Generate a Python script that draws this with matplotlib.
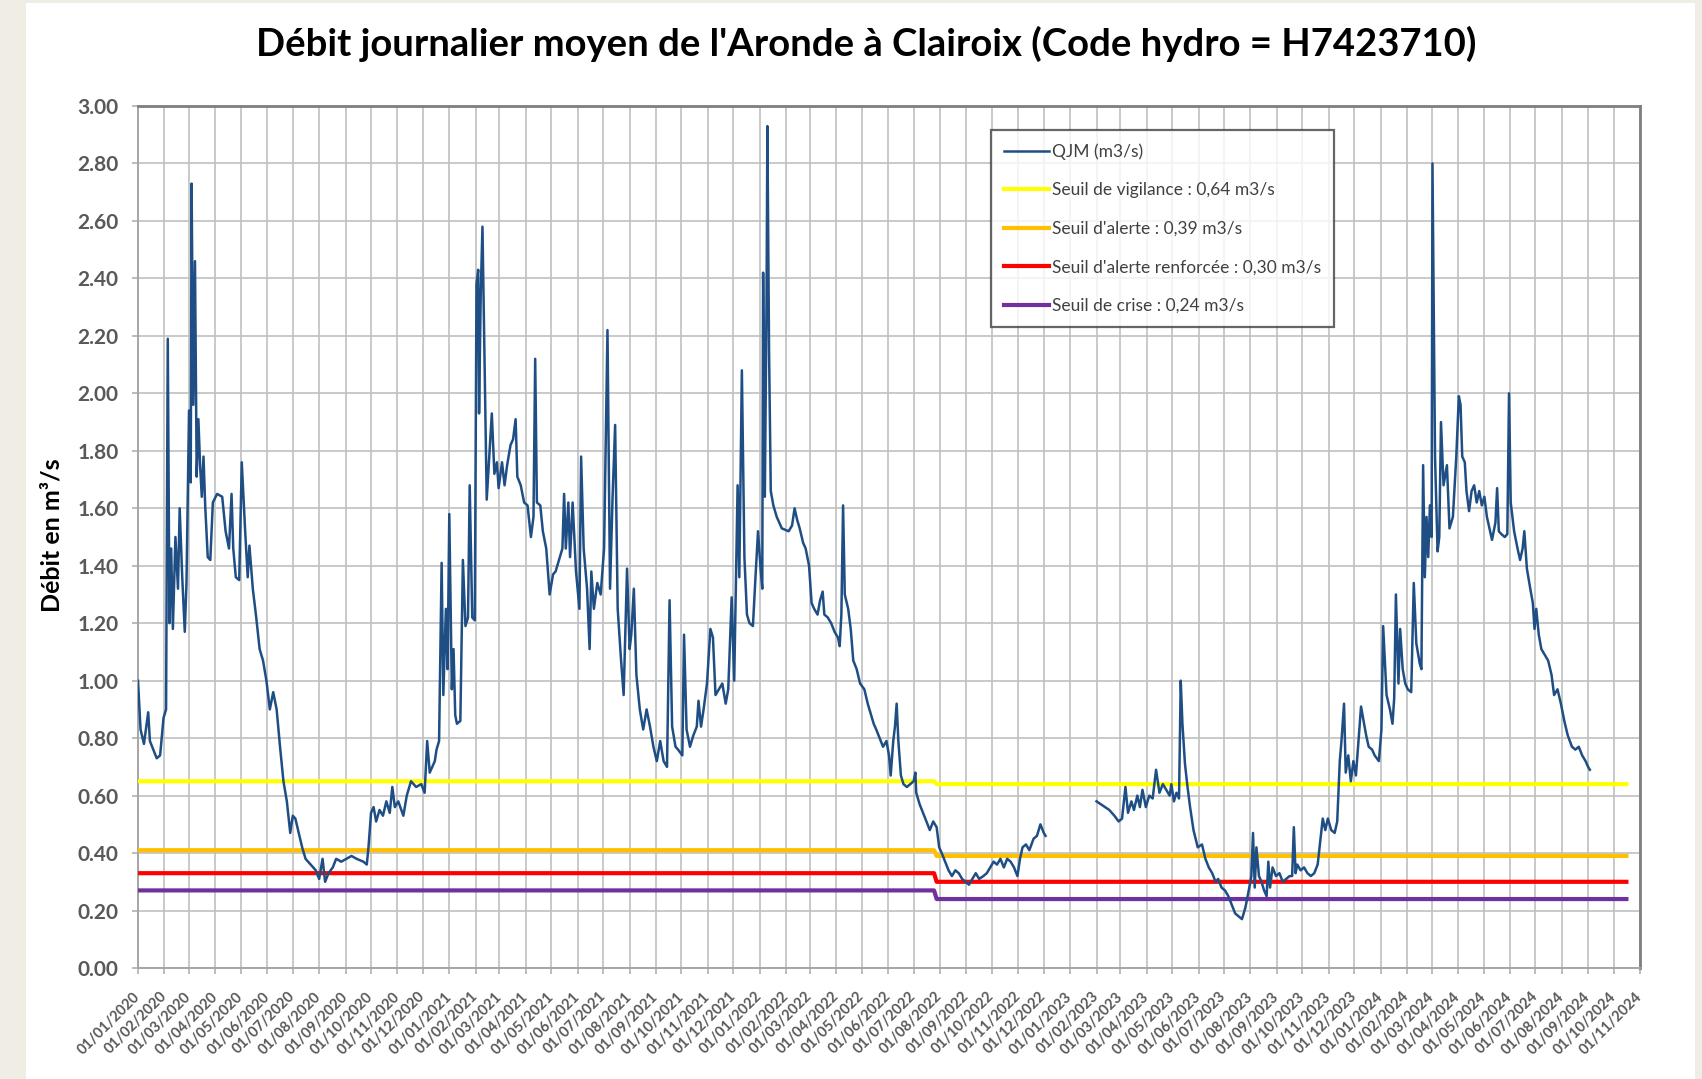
import matplotlib
matplotlib.use("Agg")
import matplotlib.pyplot as plt
import matplotlib.dates as mdates
import matplotlib.ticker as mticker
from matplotlib.patches import Rectangle
import pandas as pd

# ---------------- data ----------------
dates_2020 = ["2020-01-01","2020-01-04","2020-01-08","2020-01-13","2020-01-15","2020-01-19","2020-01-23","2020-01-27",
              "2020-01-31","2020-02-03","2020-02-04","2020-02-05","2020-02-07","2020-02-09","2020-02-11","2020-02-14",
              "2020-02-17","2020-02-19","2020-02-22","2020-02-25","2020-02-27","2020-03-01","2020-03-03","2020-03-04",
              "2020-03-06","2020-03-08","2020-03-10","2020-03-12","2020-03-14","2020-03-16","2020-03-18","2020-03-20",
              "2020-03-23","2020-03-26","2020-03-29","2020-04-03","2020-04-09","2020-04-13","2020-04-17","2020-04-20",
              "2020-04-22","2020-04-25","2020-04-29","2020-05-02","2020-05-06","2020-05-09","2020-05-11","2020-05-15",
              "2020-05-19","2020-05-23","2020-05-27","2020-05-31","2020-06-04","2020-06-08","2020-06-12","2020-06-16",
              "2020-06-20","2020-06-24","2020-06-28","2020-07-01","2020-07-04","2020-07-08","2020-07-12","2020-07-16",
              "2020-07-22","2020-07-28","2020-08-01","2020-08-05","2020-08-08","2020-08-12","2020-08-17","2020-08-21",
              "2020-08-27","2020-09-02","2020-09-08","2020-09-14","2020-09-22","2020-09-26","2020-09-28","2020-10-01",
              "2020-10-04","2020-10-07","2020-10-11","2020-10-15","2020-10-19","2020-10-23","2020-10-26","2020-10-29",
              "2020-11-02","2020-11-08","2020-11-12","2020-11-17","2020-11-23","2020-11-29","2020-12-03","2020-12-06",
              "2020-12-09","2020-12-15","2020-12-17","2020-12-20","2020-12-23","2020-12-25","2020-12-28","2020-12-30"]
q_2020 = [1.00,0.83,0.78,0.89,0.79,0.76,0.73,0.74,
          0.87,0.90,1.55,2.19,1.20,1.46,1.18,1.50,
          1.32,1.60,1.36,1.17,1.34,1.94,1.69,2.73,
          1.96,2.46,1.71,1.91,1.75,1.64,1.78,1.61,
          1.43,1.42,1.62,1.65,1.64,1.52,1.46,1.65,
          1.46,1.36,1.35,1.76,1.52,1.36,1.47,1.32,
          1.22,1.11,1.07,1.00,0.90,0.96,0.90,0.77,
          0.65,0.58,0.47,0.53,0.52,0.47,0.42,0.38,
          0.36,0.34,0.31,0.38,0.30,0.33,0.35,0.38,
          0.37,0.38,0.39,0.38,0.37,0.36,0.42,0.54,
          0.56,0.51,0.55,0.53,0.58,0.54,0.63,0.56,
          0.58,0.53,0.60,0.65,0.63,0.64,0.61,0.79,
          0.68,0.72,0.76,0.79,1.41,0.95,1.25,1.04]

dates_2021 = ["2021-01-01","2021-01-04","2021-01-06","2021-01-08","2021-01-10","2021-01-14","2021-01-17","2021-01-20",
              "2021-01-23","2021-01-25","2021-01-28","2021-01-31","2021-02-02","2021-02-04","2021-02-05","2021-02-07",
              "2021-02-09","2021-02-12","2021-02-14","2021-02-17","2021-02-20","2021-02-23","2021-02-26","2021-02-28",
              "2021-03-04","2021-03-07","2021-03-10","2021-03-14","2021-03-17","2021-03-20","2021-03-22","2021-03-26",
              "2021-03-30","2021-04-03","2021-04-07","2021-04-10","2021-04-12","2021-04-14","2021-04-18","2021-04-21",
              "2021-04-25","2021-04-29","2021-05-03","2021-05-06","2021-05-10","2021-05-14","2021-05-16","2021-05-18",
              "2021-05-21","2021-05-23","2021-05-26","2021-05-30","2021-06-03","2021-06-05","2021-06-08","2021-06-12",
              "2021-06-15","2021-06-17","2021-06-20","2021-06-24","2021-06-28","2021-07-02","2021-07-06","2021-07-09",
              "2021-07-12","2021-07-15","2021-07-18","2021-07-22","2021-07-25","2021-07-29","2021-08-01","2021-08-03",
              "2021-08-06","2021-08-09","2021-08-13","2021-08-17","2021-08-21","2021-08-25","2021-08-29","2021-09-02",
              "2021-09-06","2021-09-10","2021-09-14","2021-09-17","2021-09-20","2021-09-24","2021-09-27","2021-10-02",
              "2021-10-04","2021-10-07","2021-10-11","2021-10-15","2021-10-19","2021-10-21","2021-10-24","2021-10-27",
              "2021-10-31","2021-11-04","2021-11-07","2021-11-10","2021-11-14","2021-11-18","2021-11-22","2021-11-25",
              "2021-11-29","2021-12-02","2021-12-06","2021-12-08","2021-12-11","2021-12-14","2021-12-17","2021-12-20",
              "2021-12-24","2021-12-27","2021-12-30"]
q_2021 = [1.58,0.97,1.11,0.88,0.85,0.86,1.42,1.19,
          1.22,1.68,1.22,1.21,2.38,2.43,1.93,2.35,
          2.58,2.01,1.63,1.78,1.93,1.72,1.76,1.67,
          1.76,1.68,1.75,1.82,1.84,1.91,1.71,1.68,
          1.62,1.61,1.50,1.57,2.12,1.62,1.61,1.52,
          1.46,1.30,1.37,1.38,1.42,1.46,1.65,1.46,
          1.62,1.43,1.62,1.38,1.25,1.78,1.46,1.32,
          1.11,1.38,1.25,1.34,1.30,1.46,2.22,1.32,
          1.64,1.89,1.25,1.07,0.95,1.39,1.11,1.16,
          1.32,1.02,0.90,0.83,0.90,0.84,0.77,0.72,
          0.79,0.72,0.70,1.28,0.84,0.77,0.76,0.74,
          1.16,0.83,0.77,0.81,0.84,0.93,0.84,0.90,
          0.99,1.18,1.15,0.95,0.97,0.99,0.92,0.97,
          1.29,1.00,1.68,1.36,2.08,1.43,1.23,1.20,
          1.19,1.36,1.52]

dates_2022 = ["2022-01-02","2022-01-04","2022-01-05","2022-01-07","2022-01-09","2022-01-10","2022-01-12","2022-01-14",
              "2022-01-17","2022-01-21","2022-01-27","2022-02-04","2022-02-08","2022-02-11","2022-02-14","2022-02-17",
              "2022-02-21","2022-02-24","2022-02-28","2022-03-03","2022-03-06","2022-03-10","2022-03-13","2022-03-16",
              "2022-03-18","2022-03-22","2022-03-26","2022-03-30","2022-04-03","2022-04-05","2022-04-07","2022-04-09",
              "2022-04-11","2022-04-15","2022-04-18","2022-04-21","2022-04-25","2022-04-29","2022-05-04","2022-05-08",
              "2022-05-12","2022-05-15","2022-05-18","2022-05-22","2022-05-26","2022-05-30","2022-06-02","2022-06-04",
              "2022-06-07","2022-06-09","2022-06-11","2022-06-13","2022-06-16","2022-06-19","2022-06-23","2022-06-27",
              "2022-07-01","2022-07-03","2022-07-04","2022-07-08","2022-07-12","2022-07-16","2022-07-20","2022-07-24",
              "2022-07-28","2022-07-31","2022-08-03","2022-08-07","2022-08-11","2022-08-15","2022-08-19","2022-08-23",
              "2022-08-27","2022-08-31","2022-09-04","2022-09-08","2022-09-12","2022-09-16","2022-09-21","2022-09-25",
              "2022-09-29","2022-10-03","2022-10-07","2022-10-11","2022-10-15","2022-10-19","2022-10-23","2022-10-27",
              "2022-10-31","2022-11-03","2022-11-06","2022-11-10","2022-11-14","2022-11-19","2022-11-23","2022-11-27",
              "2022-12-01","2022-12-03"]
q_2022 = [1.39,1.32,2.42,1.64,2.31,2.93,2.14,1.66,
          1.61,1.57,1.53,1.52,1.54,1.60,1.56,1.53,
          1.48,1.46,1.40,1.27,1.25,1.23,1.28,1.31,
          1.23,1.22,1.20,1.17,1.15,1.12,1.23,1.61,
          1.30,1.25,1.18,1.07,1.04,0.99,0.97,0.92,
          0.88,0.85,0.83,0.80,0.77,0.79,0.74,0.67,
          0.79,0.84,0.92,0.79,0.67,0.64,0.63,0.64,
          0.65,0.68,0.61,0.57,0.54,0.51,0.48,0.51,
          0.49,0.42,0.40,0.37,0.34,0.32,0.34,0.33,
          0.31,0.30,0.29,0.31,0.33,0.31,0.32,0.33,
          0.35,0.37,0.36,0.38,0.35,0.38,0.37,0.35,
          0.32,0.38,0.42,0.43,0.41,0.45,0.46,0.50,
          0.47,0.46]

dates_2023 = ["2023-02-01","2023-02-06","2023-02-11","2023-02-16","2023-02-22","2023-02-27","2023-03-03","2023-03-07",
              "2023-03-10","2023-03-14","2023-03-17","2023-03-21","2023-03-24","2023-03-27","2023-03-31","2023-04-04",
              "2023-04-08","2023-04-12","2023-04-16","2023-04-20","2023-04-24","2023-04-28","2023-04-30","2023-05-03",
              "2023-05-06","2023-05-09","2023-05-11","2023-05-13","2023-05-16","2023-05-19","2023-05-22","2023-05-26",
              "2023-05-31","2023-06-05","2023-06-09","2023-06-13","2023-06-17","2023-06-21","2023-06-24","2023-06-28",
              "2023-07-02","2023-07-06","2023-07-10","2023-07-14","2023-07-18","2023-07-22","2023-07-26","2023-07-30",
              "2023-08-02","2023-08-04","2023-08-06","2023-08-08","2023-08-11","2023-08-14","2023-08-17","2023-08-20",
              "2023-08-22","2023-08-24","2023-08-27","2023-08-31","2023-09-04","2023-09-08","2023-09-12","2023-09-16",
              "2023-09-19","2023-09-21","2023-09-23","2023-09-25","2023-09-29","2023-10-03","2023-10-07","2023-10-11",
              "2023-10-15","2023-10-19","2023-10-22","2023-10-25","2023-10-28","2023-10-31","2023-11-04","2023-11-08",
              "2023-11-11","2023-11-14","2023-11-16","2023-11-19","2023-11-21","2023-11-24","2023-11-27","2023-11-30",
              "2023-12-03","2023-12-06","2023-12-09","2023-12-12","2023-12-15","2023-12-18","2023-12-22","2023-12-25",
              "2023-12-30"]
q_2023 = [0.58,0.57,0.56,0.55,0.53,0.51,0.52,0.63,
          0.54,0.58,0.55,0.60,0.56,0.62,0.56,0.60,
          0.59,0.69,0.61,0.64,0.62,0.60,0.64,0.58,
          0.61,0.59,1.00,0.85,0.71,0.63,0.56,0.48,
          0.42,0.43,0.38,0.35,0.33,0.30,0.31,0.28,
          0.27,0.25,0.22,0.19,0.18,0.17,0.21,0.27,
          0.32,0.47,0.28,0.42,0.32,0.30,0.27,0.25,
          0.37,0.28,0.35,0.32,0.33,0.30,0.31,0.32,
          0.32,0.49,0.33,0.36,0.34,0.35,0.33,0.32,
          0.33,0.36,0.44,0.52,0.48,0.52,0.48,0.47,
          0.51,0.72,0.79,0.92,0.68,0.74,0.65,0.72,
          0.67,0.79,0.91,0.86,0.81,0.77,0.76,0.74,
          0.72]

dates_2024 = ["2024-01-02","2024-01-04","2024-01-08","2024-01-12","2024-01-15","2024-01-17","2024-01-19","2024-01-22",
              "2024-01-24","2024-01-27","2024-01-30","2024-02-02","2024-02-06","2024-02-09","2024-02-12","2024-02-16",
              "2024-02-18","2024-02-20","2024-02-22","2024-02-24","2024-02-26","2024-02-28","2024-03-01","2024-03-02",
              "2024-03-05","2024-03-08","2024-03-10","2024-03-12","2024-03-15","2024-03-19","2024-03-22","2024-03-26",
              "2024-03-30","2024-04-02","2024-04-04","2024-04-06","2024-04-09","2024-04-11","2024-04-14","2024-04-17",
              "2024-04-20","2024-04-23","2024-04-26","2024-04-29","2024-05-02","2024-05-05","2024-05-08","2024-05-11",
              "2024-05-15","2024-05-17","2024-05-19","2024-05-22","2024-05-26","2024-05-29","2024-05-31","2024-06-02",
              "2024-06-06","2024-06-10","2024-06-13","2024-06-16","2024-06-18","2024-06-21","2024-06-25","2024-06-28",
              "2024-06-30","2024-07-02","2024-07-05","2024-07-08","2024-07-12","2024-07-16","2024-07-20","2024-07-23",
              "2024-07-27","2024-07-31","2024-08-04","2024-08-08","2024-08-13","2024-08-17","2024-08-21","2024-08-25",
              "2024-08-29","2024-09-01","2024-09-03"]
q_2024 = [0.83,1.19,0.95,0.90,0.85,0.94,1.30,0.99,
          1.18,1.04,0.99,0.97,0.96,1.34,1.13,1.06,
          1.04,1.75,1.36,1.57,1.43,1.61,1.50,2.80,
          1.78,1.45,1.50,1.90,1.68,1.75,1.53,1.57,
          1.78,1.99,1.96,1.78,1.76,1.66,1.59,1.66,
          1.68,1.62,1.66,1.61,1.64,1.57,1.53,1.49,
          1.55,1.67,1.52,1.51,1.50,1.51,2.00,1.62,
          1.52,1.46,1.42,1.46,1.52,1.39,1.32,1.27,
          1.18,1.25,1.16,1.11,1.09,1.07,1.02,0.95,
          0.97,0.92,0.86,0.81,0.77,0.76,0.77,0.74,
          0.72,0.70,0.69]

threshold_dates = ["2020-01-01", "2022-07-25", "2022-07-28", "2024-10-16"]
seuil_vigilance = [0.65, 0.65, 0.64, 0.64]
seuil_alerte = [0.41, 0.41, 0.39, 0.39]
seuil_renforcee = [0.33, 0.33, 0.30, 0.30]
seuil_crise = [0.27, 0.27, 0.24, 0.24]

labels = ["QJM (m3/s)",
          "Seuil de vigilance : 0,64 m3/s",
          "Seuil d'alerte : 0,39 m3/s",
          "Seuil d'alerte renforcée : 0,30 m3/s",
          "Seuil de crise : 0,24 m3/s"]
title = "Débit journalier moyen de l'Aronde à Clairoix (Code hydro = H7423710)"
ylabel = "Débit en m³/s"

# ---------------- figure ----------------
W, H = 1702, 1079
fig = plt.figure(figsize=(W / 100, H / 100), dpi=100)
fig.patch.set_facecolor("#F0EEE4")
fig.patches.append(Rectangle((26 / W, 0), (1695 - 26) / W, 1 - 3 / H,
                             transform=fig.transFigure, facecolor="white",
                             edgecolor="none", zorder=-10))

ax = fig.add_axes([138 / W, 1 - 968 / H, (1640 - 138) / W, (968 - 106) / H])
ax.set_zorder(2)
ax.set_facecolor("white")

seg1_dates = pd.to_datetime(dates_2020 + dates_2021 + dates_2022)
seg1_q = q_2020 + q_2021 + q_2022
seg2_dates = pd.to_datetime(dates_2023 + dates_2024)
seg2_q = q_2023 + q_2024
td = pd.to_datetime(threshold_dates)

blue = "#1F4E85"
h_q, = ax.plot(seg1_dates, seg1_q, color=blue, lw=1.8, zorder=5)
ax.plot(seg2_dates, seg2_q, color=blue, lw=1.8, zorder=5)
h_v, = ax.plot(td, seuil_vigilance, color="#FFFF00", lw=3.0, zorder=3)
h_a, = ax.plot(td, seuil_alerte, color="#FFC000", lw=3.0, zorder=3)
h_r, = ax.plot(td, seuil_renforcee, color="#FF0000", lw=3.0, zorder=3)
h_c, = ax.plot(td, seuil_crise, color="#7030A0", lw=3.0, zorder=3)

ax.set_xlim(pd.Timestamp("2020-01-01"), pd.Timestamp("2024-11-01"))
ax.set_ylim(0, 3.0)
ax.yaxis.set_major_locator(mticker.MultipleLocator(0.2))
ax.yaxis.set_major_formatter(mticker.FormatStrFormatter("%.2f"))
ax.xaxis.set_major_locator(mdates.MonthLocator())
ax.xaxis.set_major_formatter(mdates.DateFormatter("%d/%m/%Y"))

ax.set_axisbelow(True)
ax.grid(True, color="#C0C0C0", lw=1.2)
ax.tick_params(axis="both", direction="out", length=4, width=1.2, color="#B0B0B0")
ax.tick_params(axis="y", pad=10, labelsize=15, labelcolor="#595959")
ax.tick_params(axis="x", pad=15, labelsize=10.5, labelcolor="#595959")
for lab in ax.get_yticklabels():
    lab.set_fontfamily("Lato")
    lab.set_fontweight("bold")
for lab in ax.get_xticklabels():
    lab.set_fontfamily("Lato")
    lab.set_fontweight("bold")
    lab.set_rotation(45)
    lab.set_ha("right")
    lab.set_va("center")
    lab.set_rotation_mode("anchor")

for s in ["left", "bottom"]:
    ax.spines[s].set_color("#A6A6A6")
    ax.spines[s].set_linewidth(1.4)
for s in ["top", "right"]:
    ax.spines[s].set_color("#7F7F7F")
    ax.spines[s].set_linewidth(2.0)

leg = ax.legend([h_q, h_v, h_a, h_r, h_c], labels, loc="upper left",
                bbox_to_anchor=(0.568, 0.972), borderaxespad=0,
                prop={"family": "Lato", "size": 12.5}, labelcolor="#404040",
                frameon=True, fancybox=False, edgecolor="#404040",
                handlelength=2.6, handletextpad=0.15, labelspacing=1.3,
                borderpad=0.75)
leg.get_frame().set_linewidth(1.6)
leg.set_zorder(10)

fig.text(866 / W, 1 - 44 / H, title, ha="center", va="center",
         fontsize=27.5, fontweight="bold", family="Lato", color="#000000")
fig.text(52 / W, 1 - 535 / H, ylabel, ha="center", va="center", rotation=90,
         fontsize=18, fontweight="bold", family="Lato", color="#000000")

fig.savefig("out.png", dpi=100, facecolor=fig.get_facecolor())
